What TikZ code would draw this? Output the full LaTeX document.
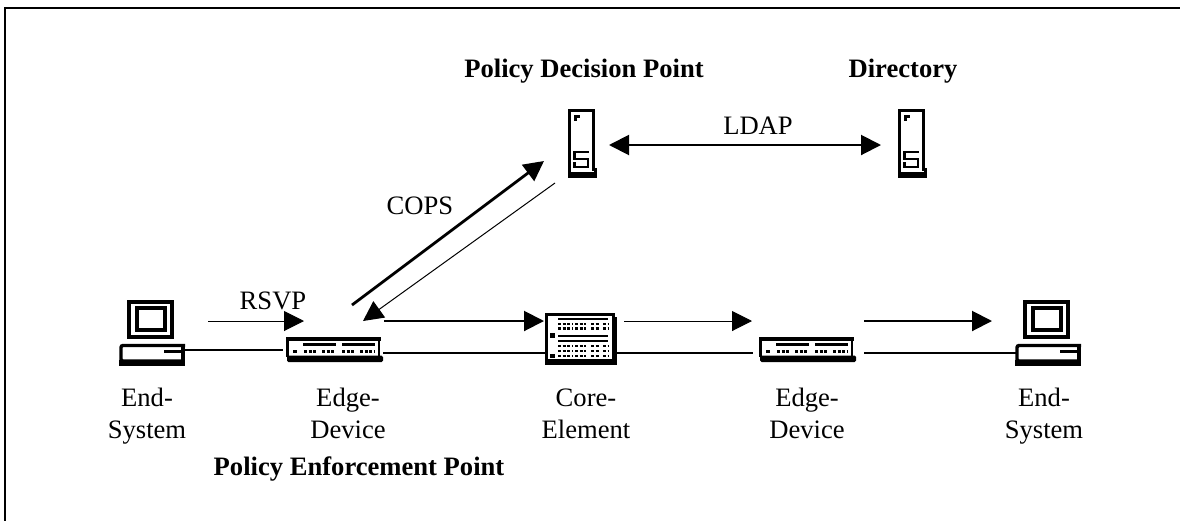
\documentclass[tikz,border=0pt]{standalone}
\usepackage{fontspec}
\setmainfont{Liberation Serif}
\usetikzlibrary{arrows.meta}
\tikzset{
  lab/.style={inner sep=0pt,align=center,font=\fontsize{26.6}{32}\selectfont},
  blab/.style={inner sep=0pt,font=\fontsize{26.6}{32}\selectfont\bfseries},
  head/.style={-{Triangle[length=20pt,width=20pt]}},
  thinarrow/.style={head,line width=1pt},
  midarrow/.style={head,line width=2pt},
  boldarrow/.style={head,line width=2.8pt},
  wire/.style={line width=2.6pt},
  ink/.style={line width=#1,line cap=butt},
  dots/.style={line width=2.6pt,dash pattern=on 3.2pt off 1.4pt},
  pcicon/.pic={
    \draw[ink=4pt] (10,2) rectangle (52.5,37);
    \draw[ink=4pt] (18,8) rectangle (46,30);
    \draw[ink=3.4pt,rounded corners=2pt] (66,45.5) -- (2,45.5) -- (2,61) -- (64,61);
    \fill (0,59.5) rectangle (66,66);
    \fill (62,47) rectangle (66,66);
    \fill (45,49.5) rectangle (64,52.5);
  },
  edgeicon/.pic={
    \draw[ink=3.6pt] (0,1.8) -- (95,1.8);
    \draw[ink=3pt] (1.5,1) -- (1.5,20);
    \draw[ink=2.6pt] (93,1) -- (93,20);
    \fill[rounded corners=1.5pt] (1,18.5) rectangle (97,25);
    \fill (17,6) rectangle (50,9);
    \fill (56,6) rectangle (89,9);
    \fill (7,12.5) rectangle (10.5,16);
    \foreach \xa/\xb in {18/31,36/49,56/69,74/89}
      {\draw[dots] (\xa,14.5) -- (\xb,14.5);}
  },
  coreicon/.pic={
    \draw[ink=3pt] (1,1.5) rectangle (68.5,47);
    \fill (0,46) rectangle (72,52);
    \fill (68,4) rectangle (72,52);
    \fill (13,4.8) rectangle (63,7.4);
    \fill (13,21.8) rectangle (63,24.4);
    \fill (13,26.8) rectangle (63,29.4);
    \fill (5,20) rectangle (9.5,24.5);
    \fill (5,40.5) rectangle (9.5,45);
    \foreach \yy in {11,15.5,33,38,43}
      \foreach \xa/\xb in {13/27,30/41,46/55,58/63}
        {\draw[dots] (\xa,\yy) -- (\xb,\yy);}
  },
  servericon/.pic={
    \draw[ink=3pt] (28,1.5) -- (2,1.5) -- (2,65);
    \draw[ink=3pt] (26.5,1) -- (26.5,62);
    \fill (1,63) rectangle (30,69);
    \fill (27,59) rectangle (30,69);
    \fill (6.5,6) rectangle (13,9);
    \fill (6.5,6) rectangle (9.5,11.5);
    \draw[ink=2.8pt] (21.5,43) -- (7.5,43) -- (7.5,50) -- (21,50) -- (21,58) -- (6,58);
    \draw[ink=2.8pt] (7.5,53) -- (7.5,59);
  },
}
\begin{document}
\begin{tikzpicture}[x=1pt,y=-1pt]
\useasboundingbox (0,0) rectangle (1180,520);
\fill[white] (0,0) rectangle (1180,520);
% frame: only the top and left edges
\coordinate (frameTR) at (1180,8);
\coordinate (frameTL) at (5,8);
\coordinate (frameBL) at (5,520);
\draw[line width=2.2pt,line cap=rect] (frameTR) -- (frameTL) -- (frameBL);

% device anchors
\coordinate (pcA) at (119,300);
\coordinate (edgeA) at (286,337);
\coordinate (core) at (545,313);
\coordinate (edgeB) at (759,337);
\coordinate (pcB) at (1015,300);
\coordinate (pdp) at (567,109);
\coordinate (dir) at (897,109);

\pic at (pcA) {pcicon};
\pic at (edgeA) {edgeicon};
\pic at (core) {coreicon};
\pic at (edgeB) {edgeicon};
\pic at (pcB) {pcicon};
\pic at (pdp) {servericon};
\pic at (dir) {servericon};

% wires
\coordinate (w1a) at (184,350); \coordinate (w1b) at (283,350);
\coordinate (w2a) at (383,353); \coordinate (w2b) at (546,353);
\coordinate (w3a) at (617,353); \coordinate (w3b) at (753,353);
\coordinate (w4a) at (864,353); \coordinate (w4b) at (1016,353);
\draw[wire] (w1a) -- (w1b);
\draw[wire] (w2a) -- (w2b);
\draw[wire] (w3a) -- (w3b);
\draw[wire] (w4a) -- (w4b);

% flow arrows
\coordinate (a1a) at (208,321); \coordinate (a1b) at (304,321);
\coordinate (a2a) at (384,321); \coordinate (a2b) at (544,321);
\coordinate (a3a) at (624,321); \coordinate (a3b) at (752,321);
\coordinate (a4a) at (864,321); \coordinate (a4b) at (992,321);
\draw[thinarrow] (a1a) -- (a1b);
\draw[midarrow] (a2a) -- (a2b);
\draw[thinarrow] (a3a) -- (a3b);
\draw[midarrow] (a4a) -- (a4b);

\coordinate (c1a) at (352,305); \coordinate (c1b) at (544,161);
\coordinate (c2a) at (555,183); \coordinate (c2b) at (363,321);
\draw[boldarrow] (c1a) -- (c1b);
\draw[thinarrow] (c2a) -- (c2b);

\coordinate (l1) at (609,145); \coordinate (l2) at (881,145);
\draw[line width=2pt,{Triangle[length=20pt,width=20pt]}-{Triangle[length=20pt,width=20pt]}] (l1) -- (l2);

% labels
\node[blab,anchor=base] (tPDP) at (584,77) {Policy Decision Point};
\node[blab,anchor=base] (tDir) at (903,77) {Directory};
\node[lab,anchor=base] (tLDAP) at (758,134) {LDAP};
\node[lab,anchor=base] (tCOPS) at (420,214) {COPS};
\node[lab,anchor=base] (tRSVP) at (273,309) {RSVP};
\node[lab,anchor=base] (tE1a) at (147,406) {End-};
\node[lab,anchor=base] (tE1b) at (147,438) {System};
\node[lab,anchor=base] (tD1a) at (348,406) {Edge-};
\node[lab,anchor=base] (tD1b) at (348,438) {Device};
\node[lab,anchor=base] (tCa) at (586,406) {Core-};
\node[lab,anchor=base] (tCb) at (586,438) {Element};
\node[lab,anchor=base] (tD2a) at (807,406) {Edge-};
\node[lab,anchor=base] (tD2b) at (807,438) {Device};
\node[lab,anchor=base] (tE2a) at (1044,406) {End-};
\node[lab,anchor=base] (tE2b) at (1044,438) {System};
\node[blab,anchor=base] (tPEP) at (359,475) {Policy Enforcement Point};
\end{tikzpicture}
\end{document}
